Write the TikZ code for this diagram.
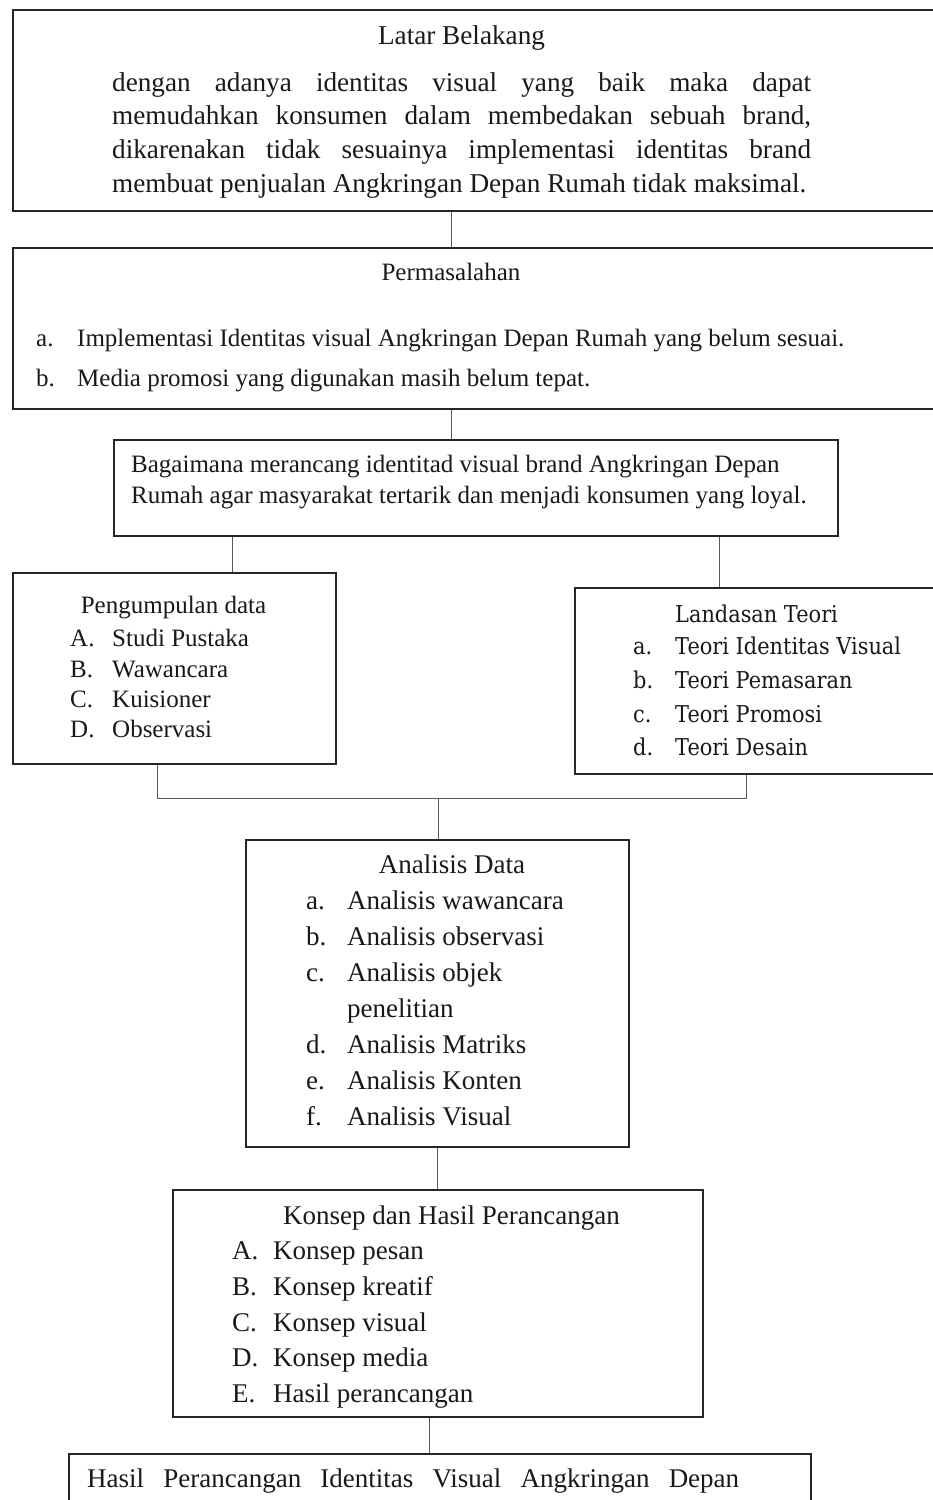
\documentclass[tikz,border=0pt]{standalone}
\usepackage{fontspec}
\setmainfont{Liberation Serif}
\newfontfamily\cambriafont[FakeStretch=0.9]{DejaVu Serif}
\newcommand\fbig{\fontsize{27.2}{33}\selectfont}
\newcommand\fmid{\fontsize{25}{30}\selectfont}
\newcommand\flist{\fontsize{27}{33}\selectfont}
\newcommand\fcam{\cambriafont\fontsize{23.2}{28}\selectfont}
\begin{document}
\begin{tikzpicture}[x=1pt,y=1pt,
  box/.style={draw=black!85, line width=1.8pt, inner sep=0, anchor=north west},
  conn/.style={draw=black!65, line width=0.9pt},
  t/.style={inner sep=0, anchor=base west, text=black!90},
  tc/.style={inner sep=0, anchor=base, text=black!90}]
\clip (0,0) rectangle (933,-1500);
\fill[white] (0,0) rectangle (933,-1500);

% boxes
\node[box, minimum width=933pt, minimum height=201pt] (lb) at (12,-9) {};
\node[box, minimum width=933pt, minimum height=161pt] (pm) at (12,-247) {};
\node[box, minimum width=724pt, minimum height=96pt] (rq) at (113,-439) {};
\node[box, minimum width=323pt, minimum height=191pt] (pd) at (12,-572) {};
\node[box, minimum width=371pt, minimum height=186pt] (lt) at (574,-587) {};
\node[box, minimum width=383pt, minimum height=307pt] (ad) at (245,-839) {};
\node[box, minimum width=530pt, minimum height=227pt] (kh) at (172,-1189) {};
\node[box, minimum width=742pt, minimum height=80pt] (hp) at (68,-1453) {};

% connector coordinates
\coordinate (c1) at (451,0);
\coordinate (c2) at (451,0);
\coordinate (c3) at (232,0);
\coordinate (c4) at (719,0);
\coordinate (jl) at (157,-798);
\coordinate (jr) at (746,-798);
\coordinate (jm) at (438,-798);
\coordinate (c5) at (437,0);
\coordinate (c6) at (429,0);

\draw[conn] (lb.south -| c1) -- (pm.north -| c1);
\draw[conn] (pm.south -| c2) -- (rq.north -| c2);
\draw[conn] (rq.south -| c3) -- (pd.north -| c3);
\draw[conn] (rq.south -| c4) -- (lt.north -| c4);
\draw[conn] (pd.south -| jl) -- (jl) -- (jr) -- (lt.south -| jr);
\draw[conn] (jm) -- (ad.north -| jm);
\draw[conn] (ad.south -| c5) -- (kh.north -| c5);
\draw[conn] (kh.south -| c6) -- (hp.north -| c6);

% Latar Belakang
\node[tc] (lbT) at (461.5,-44) {\fbig Latar Belakang};
\node[t] (lb1) at (112,-91) {\fbig\makebox[699pt][s]{dengan adanya identitas visual yang baik maka dapat}};
\node[t] (lb2) at (112,-124.7) {\fbig\makebox[699pt][s]{memudahkan konsumen dalam membedakan sebuah brand,}};
\node[t] (lb3) at (112,-158.4) {\fbig\makebox[699pt][s]{dikarenakan tidak sesuainya implementasi identitas brand}};
\node[t] (lb4) at (112,-192) {\fbig membuat penjualan Angkringan Depan Rumah tidak maksimal.};

% Permasalahan
\node[tc] (pmT) at (451,-280) {\fmid Permasalahan};
\node[t] (pma) at (36,-346) {\fmid a.};
\node[t] (pmat) at (77,-346) {\fmid Implementasi Identitas visual Angkringan Depan Rumah yang belum sesuai.};
\node[t] (pmb) at (36,-386) {\fmid b.};
\node[t] (pmbt) at (77,-386) {\fmid Media promosi yang digunakan masih belum tepat.};

% Rumusan
\node[t] (rq1) at (131,-472) {\fmid Bagaimana merancang identitad visual brand Angkringan Depan};
\node[t] (rq2) at (131,-503) {\fmid Rumah agar masyarakat tertarik dan menjadi konsumen yang loyal.};

% Pengumpulan data
\node[tc] (pdT) at (173.5,-613) {\fmid Pengumpulan data};
\node[t] (pdA) at (70,-646) {\fmid A.};
\node[t] (pdAt) at (112,-646) {\fmid Studi Pustaka};
\node[t] (pdB) at (70,-677) {\fmid B.};
\node[t] (pdBt) at (112,-677) {\fmid Wawancara};
\node[t] (pdC) at (70,-707) {\fmid C.};
\node[t] (pdCt) at (112,-707) {\fmid Kuisioner};
\node[t] (pdD) at (70,-737) {\fmid D.};
\node[t] (pdDt) at (112,-737) {\fmid Observasi};

% Landasan Teori
\node[t] (ltT) at (675,-622) {\fcam Landasan Teori};
\node[t] (lta) at (633,-654) {\fcam a.};
\node[t] (ltat) at (675,-654) {\fcam Teori Identitas Visual};
\node[t] (ltb) at (633,-688) {\fcam b.};
\node[t] (ltbt) at (675,-688) {\fcam Teori Pemasaran};
\node[t] (ltc) at (633,-722) {\fcam c.};
\node[t] (ltct) at (675,-722) {\fcam Teori Promosi};
\node[t] (ltd) at (633,-755) {\fcam d.};
\node[t] (ltdt) at (675,-755) {\fcam Teori Desain};

% Analisis Data
\node[tc] (adT) at (452,-873) {\flist Analisis Data};
\node[t] (ada) at (306,-909) {\flist a.};
\node[t] (adat) at (347,-909) {\flist Analisis wawancara};
\node[t] (adb) at (306,-945) {\flist b.};
\node[t] (adbt) at (347,-945) {\flist Analisis observasi};
\node[t] (adc) at (306,-981) {\flist c.};
\node[t] (adct) at (347,-981) {\flist Analisis objek};
\node[t] (adc2) at (347,-1017) {\flist penelitian};
\node[t] (add) at (306,-1053) {\flist d.};
\node[t] (addt) at (347,-1053) {\flist Analisis Matriks};
\node[t] (ade) at (306,-1089) {\flist e.};
\node[t] (adet) at (347,-1089) {\flist Analisis Konten};
\node[t] (adf) at (306,-1125) {\flist f.};
\node[t] (adft) at (347,-1125) {\flist Analisis Visual};

% Konsep dan Hasil Perancangan
\node[tc] (khT) at (451.5,-1224) {\flist Konsep dan Hasil Perancangan};
\node[t] (khA) at (232,-1259) {\flist A.};
\node[t] (khAt) at (273,-1259) {\flist Konsep pesan};
\node[t] (khB) at (232,-1295) {\flist B.};
\node[t] (khBt) at (273,-1295) {\flist Konsep kreatif};
\node[t] (khC) at (232,-1331) {\flist C.};
\node[t] (khCt) at (273,-1331) {\flist Konsep visual};
\node[t] (khD) at (232,-1366) {\flist D.};
\node[t] (khDt) at (273,-1366) {\flist Konsep media};
\begin{scope}
\clip (180,-1370) rectangle (700,-1407);
\node[t] (khE) at (232,-1402) {\flist E.};
\node[t] (khEt) at (273,-1402) {\flist Hasil perancangan};
\end{scope}

% Hasil
\node[t] (hp1) at (87,-1487) {\flist\makebox[652pt][s]{Hasil Perancangan Identitas Visual Angkringan Depan}};
\end{tikzpicture}
\end{document}
